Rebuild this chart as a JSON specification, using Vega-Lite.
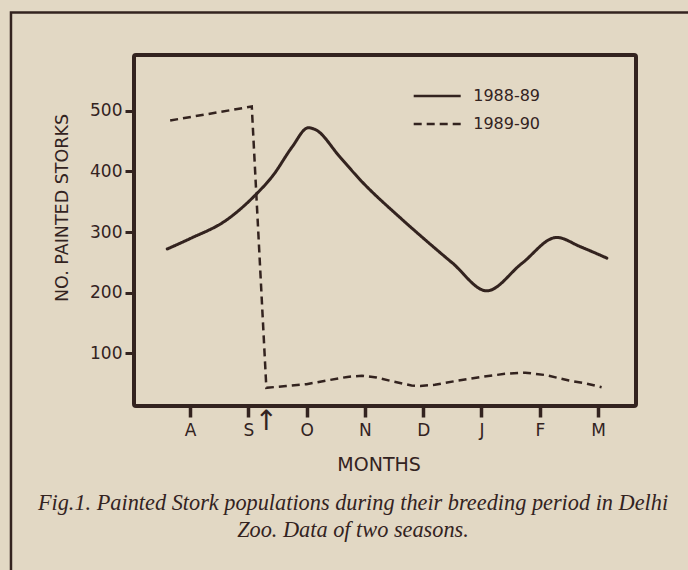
{
  "$schema": "https://vega.github.io/schema/vega-lite/v6.json",
  "width": 502,
  "height": 351,
  "autosize": "none",
  "padding": {"left": 134, "top": 55, "right": 52, "bottom": 164},
  "background": "#e2d8c4",
  "title": {
    "text": ["Fig.1. Painted Stork populations during their breeding period in Delhi", "Zoo. Data of two seasons."],
    "orient": "bottom",
    "anchor": "middle",
    "frame": "group",
    "baseline": "top",
    "dx": -32,
    "offset": -105,
    "font": "Liberation Serif",
    "fontStyle": "italic",
    "fontWeight": "normal",
    "fontSize": 22.3,
    "lineHeight": 27,
    "color": "#33231f"
  },
  "data": {
    "values": [
      {"season": "1988-89", "t": 0.61, "n": 272},
      {"season": "1988-89", "t": 1.0, "n": 289},
      {"season": "1988-89", "t": 1.63, "n": 320},
      {"season": "1988-89", "t": 2.09, "n": 358},
      {"season": "1988-89", "t": 2.43, "n": 394},
      {"season": "1988-89", "t": 2.75, "n": 440},
      {"season": "1988-89", "t": 3.03, "n": 472},
      {"season": "1988-89", "t": 3.15, "n": 469},
      {"season": "1988-89", "t": 3.57, "n": 424},
      {"season": "1988-89", "t": 3.92, "n": 386},
      {"season": "1988-89", "t": 4.6, "n": 324},
      {"season": "1988-89", "t": 5.0, "n": 290},
      {"season": "1988-89", "t": 5.5, "n": 249},
      {"season": "1988-89", "t": 6.09, "n": 203},
      {"season": "1988-89", "t": 6.69, "n": 248},
      {"season": "1988-89", "t": 7.29, "n": 291},
      {"season": "1988-89", "t": 7.69, "n": 276},
      {"season": "1988-89", "t": 8.15, "n": 257},
      {"season": "1989-90", "t": 0.66, "n": 484},
      {"season": "1989-90", "t": 2.06, "n": 507},
      {"season": "1989-90", "t": 2.31, "n": 43},
      {"season": "1989-90", "t": 2.65, "n": 46},
      {"season": "1989-90", "t": 3.0, "n": 49},
      {"season": "1989-90", "t": 3.4, "n": 56},
      {"season": "1989-90", "t": 3.7, "n": 61},
      {"season": "1989-90", "t": 3.95, "n": 63},
      {"season": "1989-90", "t": 4.2, "n": 60},
      {"season": "1989-90", "t": 4.5, "n": 53},
      {"season": "1989-90", "t": 4.8, "n": 47},
      {"season": "1989-90", "t": 4.95, "n": 46},
      {"season": "1989-90", "t": 5.2, "n": 48},
      {"season": "1989-90", "t": 5.6, "n": 55},
      {"season": "1989-90", "t": 6.0, "n": 61},
      {"season": "1989-90", "t": 6.4, "n": 66},
      {"season": "1989-90", "t": 6.75, "n": 68},
      {"season": "1989-90", "t": 7.1, "n": 64},
      {"season": "1989-90", "t": 7.5, "n": 55},
      {"season": "1989-90", "t": 7.8, "n": 50},
      {"season": "1989-90", "t": 8.06, "n": 44}
    ]
  },
  "layer": [
    {
      "data": {"values": [{}]},
      "mark": {"type": "rect", "fill": null, "stroke": "#33231f", "strokeWidth": 2.5, "clip": false},
      "encoding": {
        "x": {"datum": -2.07, "type": "quantitative"},
        "x2": {"datum": 10},
        "y": {"datum": 662, "type": "quantitative"},
        "y2": {"datum": -300}
      }
    },
    {
      "data": {"values": [{}]},
      "mark": {"type": "text", "text": "↑", "font": "DejaVu Sans", "fontSize": 28, "baseline": "middle", "align": "center", "color": "#33231f"},
      "encoding": {
        "x": {"datum": 2.31, "type": "quantitative"},
        "y": {"datum": -14, "type": "quantitative"}
      }
    },
    {
      "transform": [{"filter": "datum.season === '1988-89'"}],
      "mark": {"type": "line", "interpolate": "monotone", "color": "#33231f", "strokeWidth": 3, "strokeCap": "round"},
      "encoding": {
        "x": {
          "field": "t", "type": "quantitative",
          "scale": {"domain": [0.04, 8.65], "nice": false, "zero": false},
          "axis": {
            "values": [1, 2, 3, 4, 5, 6, 7, 8],
            "labelExpr": "['J','A','S','O','N','D','J','F','M'][datum.value]",
            "title": "MONTHS",
            "titleX": 244.6,
            "titleY": 64,
            "titleAlign": "center",
            "titleBaseline": "alphabetic",
            "titleFontSize": 19,
            "tickSize": 11,
            "tickWidth": 3.5,
            "labelPadding": 5,
            "labelBaseline": "top"
          }
        },
        "y": {
          "field": "n", "type": "quantitative",
          "scale": {"domain": [13, 592], "nice": false, "zero": false},
          "axis": {
            "values": [100, 200, 300, 400, 500],
            "title": "NO. PAINTED STORKS",
            "titleX": -72,
            "titleY": 152.5,
            "titleAngle": 270,
            "titleAlign": "center",
            "titleBaseline": "middle",
            "titleFontSize": 17.5,
            "tickSize": 9,
            "tickWidth": 3,
            "labelPadding": 3
          }
        },
        "strokeDash": {
          "field": "season", "type": "nominal",
          "scale": {"domain": ["1988-89", "1989-90"], "range": [[1, 0], [8, 5]]},
          "legend": {
            "title": null,
            "orient": "none",
            "legendX": 295.2,
            "legendY": 33,
            "symbolType": "M-23.5,0H23.5",
            "symbolSize": 4,
            "symbolStrokeWidth": 2.5,
            "symbolStrokeColor": "#33231f",
            "labelOffset": 28,
            "labelFont": "DejaVu Sans",
            "labelFontSize": 16,
            "labelColor": "#33231f",
            "rowPadding": 12,
            "padding": 0
          }
        }
      }
    },
    {
      "transform": [{"filter": "datum.season === '1989-90'"}],
      "mark": {"type": "line", "interpolate": "linear", "color": "#33231f", "strokeWidth": 2.5},
      "encoding": {
        "x": {"field": "t", "type": "quantitative"},
        "y": {"field": "n", "type": "quantitative"},
        "strokeDash": {"field": "season", "type": "nominal"}
      }
    }
  ],
  "config": {
    "view": {"stroke": "#33231f", "strokeWidth": 4, "cornerRadius": 2},
    "axis": {
      "domain": false,
      "grid": false,
      "tickColor": "#33231f",
      "labelColor": "#33231f",
      "titleColor": "#33231f",
      "labelFont": "DejaVu Sans",
      "titleFont": "DejaVu Sans",
      "labelFontSize": 17,
      "titleFontWeight": "normal",
      "labelFontWeight": "normal"
    }
  }
}
